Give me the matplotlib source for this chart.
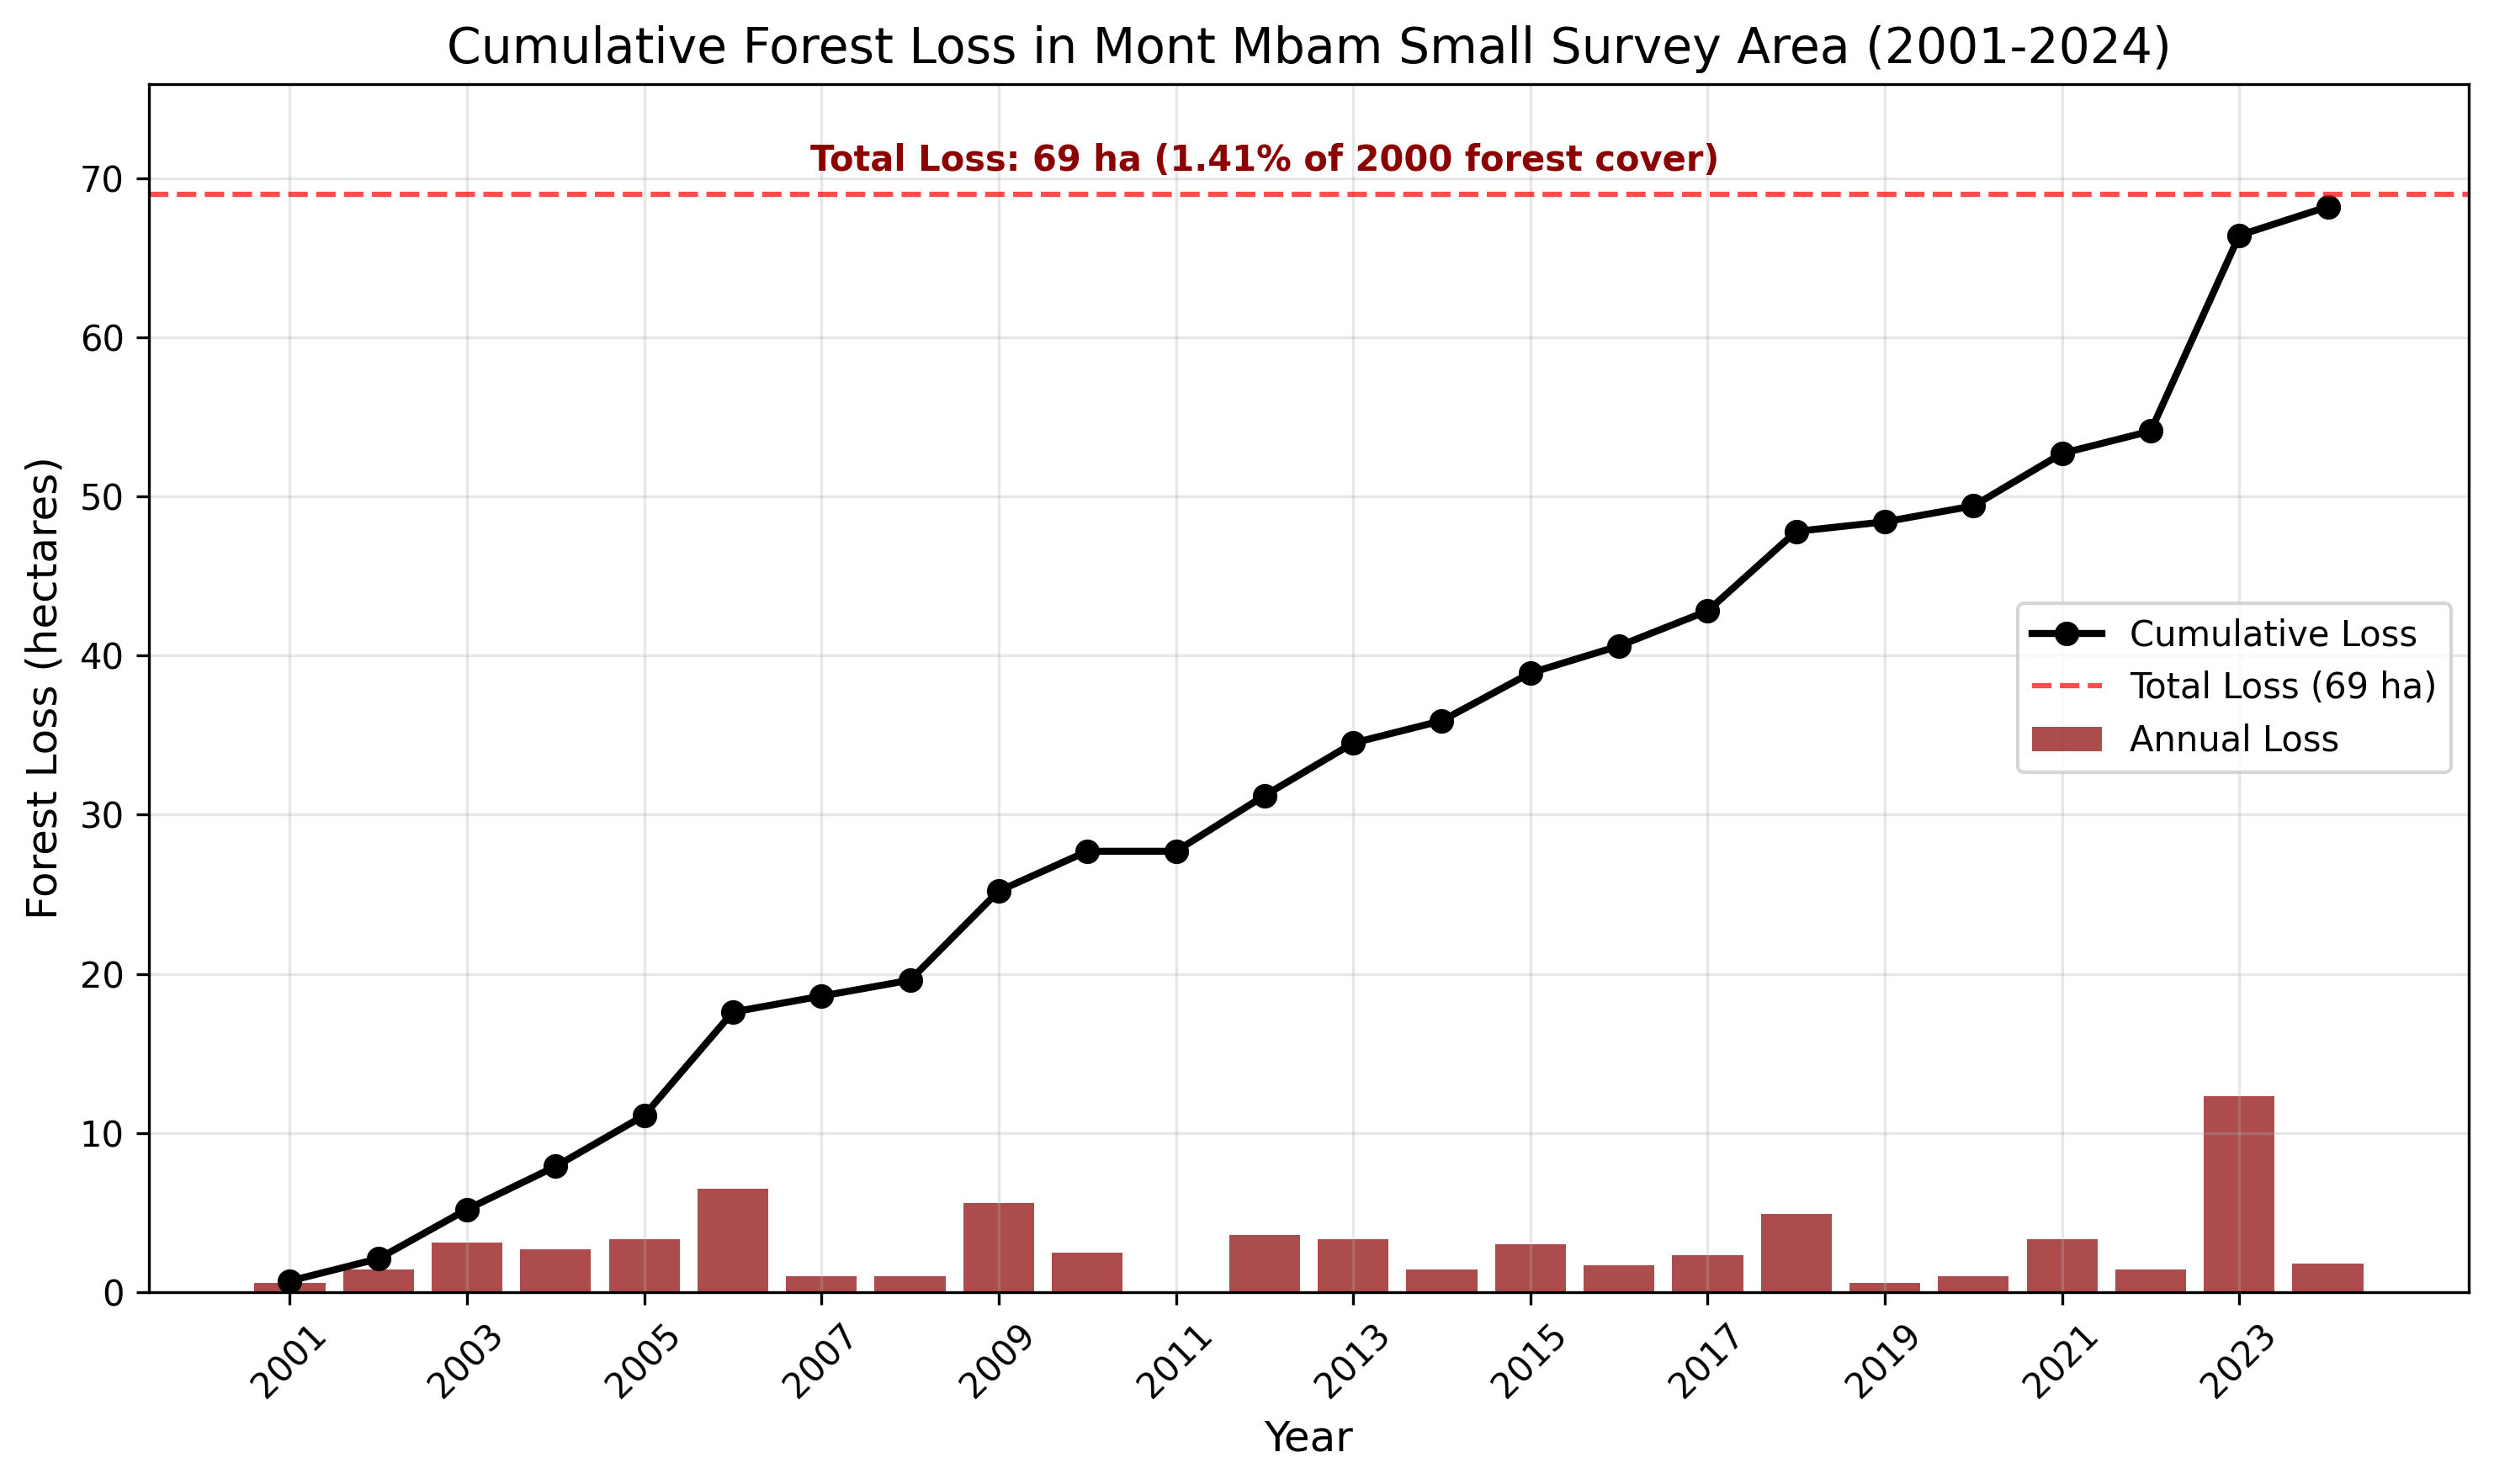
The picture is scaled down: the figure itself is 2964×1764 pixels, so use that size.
import matplotlib
matplotlib.use("Agg")
import matplotlib.pyplot as plt

# data (hectares)
years = list(range(2001, 2025))
annual_loss = [0.6, 1.4, 3.1, 2.7, 3.3, 6.5, 1.0, 1.0, 5.6, 2.5, 0.0, 3.6,
               3.3, 1.4, 3.0, 1.7, 2.3, 4.9, 0.6, 1.0, 3.3, 1.4, 12.3, 1.8]
cumulative_loss = [0.7, 2.1, 5.2, 7.9, 11.1, 17.6, 18.6, 19.6, 25.2, 27.7, 27.7, 31.2,
                   34.5, 35.9, 38.9, 40.6, 42.8, 47.8, 48.4, 49.4, 52.7, 54.1, 66.4, 68.2]
total_loss = 69
pct_of_2000 = 1.41

fig, ax = plt.subplots(figsize=(9.88, 5.88), dpi=300)
fig.subplots_adjust(left=0.0597, right=0.9899, top=0.9433, bottom=0.1293)

ax.bar(years, annual_loss, width=0.8, color="darkred", alpha=0.7, label="Annual Loss")
ax.plot(years, cumulative_loss, color="black", marker="o", linewidth=2,
        markersize=6, label="Cumulative Loss")
ax.axhline(total_loss, color="red", linestyle="--", linewidth=1.5, alpha=0.7,
           label=f"Total Loss ({total_loss} ha)")

ax.text(years[11], total_loss + 1,
        f"Total Loss: {total_loss} ha ({pct_of_2000}% of 2000 forest cover)",
        ha="center", va="bottom", fontsize=10, fontweight="bold", color="darkred")

ax.set_title("Cumulative Forest Loss in Mont Mbam Small Survey Area (2001-2024)", fontsize=14)
ax.set_xlabel("Year", fontsize=12)
ax.set_ylabel("Forest Loss (hectares)", fontsize=12)
ax.set_xticks(years[::2])
ax.tick_params(axis="x", rotation=45)
ax.set_xlim(1999.41, 2025.59)
ax.set_ylim(0, total_loss * 1.1)
ax.grid(True, alpha=0.3)
ax.legend(loc="center right")

fig.savefig("out.png", dpi=300)
plt.close(fig)
